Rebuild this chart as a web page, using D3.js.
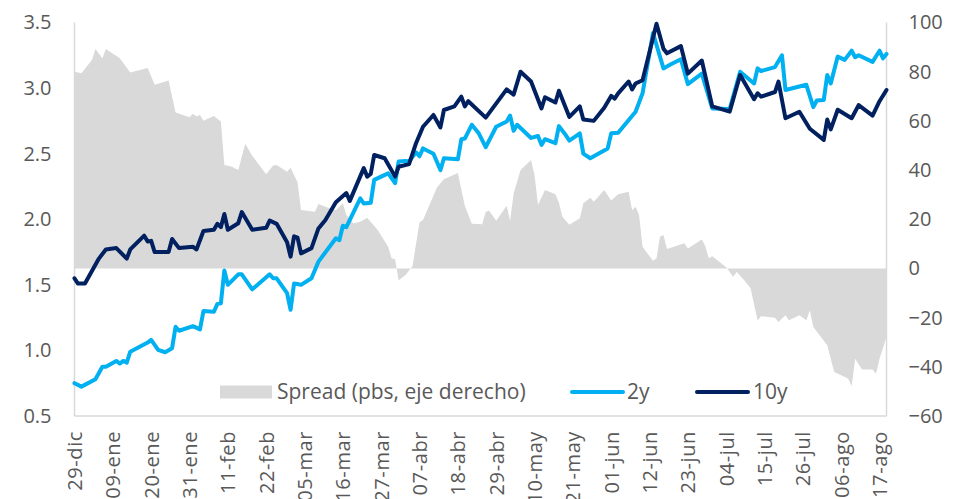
<!DOCTYPE html>
<html>
<head>
<meta charset="utf-8">
<script src="https://cdn.jsdelivr.net/npm/d3@7"></script>
<style>
  html, body { margin: 0; padding: 0; background: #fff; }
  svg { display: block; }
  text { font-family: "Open Sans", "Liberation Sans", sans-serif; fill: #595959; }
</style>
</head>
<body>
<svg id="chart" width="957" height="499"></svg>
<script>
// ---------- DATA ----------
const tickLabels = ["29-dic","09-ene","20-ene","31-ene","11-feb","22-feb","05-mar","16-mar","27-mar","07-abr","18-abr","29-abr","10-may","21-may","01-jun","12-jun","23-jun","04-jul","15-jul","26-jul","06-ago","17-ago"];
const leftTicks = [0.5, 1.0, 1.5, 2.0, 2.5, 3.0, 3.5];
const rightTicks = [-60, -40, -20, 0, 20, 40, 60, 80, 100];

const tenYDates = ["2021-12-29","2021-12-30","2022-01-01","2022-01-05","2022-01-07","2022-01-10","2022-01-13","2022-01-14","2022-01-18","2022-01-19","2022-01-20","2022-01-21","2022-01-25","2022-01-26","2022-01-28","2022-02-01","2022-02-02","2022-02-04","2022-02-07","2022-02-08","2022-02-09","2022-02-10","2022-02-11","2022-02-14","2022-02-15","2022-02-18","2022-02-22","2022-02-23","2022-02-25","2022-02-28","2022-03-01","2022-03-02","2022-03-03","2022-03-04","2022-03-07","2022-03-09","2022-03-11","2022-03-14","2022-03-17","2022-03-18","2022-03-22","2022-03-23","2022-03-24","2022-03-25","2022-03-28","2022-03-31","2022-04-01","2022-04-04","2022-04-06","2022-04-08","2022-04-11","2022-04-13","2022-04-14","2022-04-17","2022-04-19","2022-04-20","2022-04-21","2022-04-26","2022-05-02","2022-05-04","2022-05-06","2022-05-09","2022-05-12","2022-05-13","2022-05-16","2022-05-17","2022-05-20","2022-05-23","2022-05-24","2022-05-27","2022-05-30","2022-06-01","2022-06-02","2022-06-03","2022-06-06","2022-06-07","2022-06-08","2022-06-10","2022-06-14","2022-06-16","2022-06-17","2022-06-21","2022-06-23","2022-06-27","2022-06-30","2022-07-05","2022-07-08","2022-07-12","2022-07-13","2022-07-14","2022-07-18","2022-07-19","2022-07-21","2022-07-25","2022-07-28","2022-08-01","2022-08-02","2022-08-03","2022-08-05","2022-08-09","2022-08-11","2022-08-15","2022-08-17","2022-08-19"];
const tenYValues = [1.55,1.51,1.51,1.70,1.77,1.78,1.70,1.77,1.875,1.83,1.835,1.75,1.75,1.85,1.78,1.79,1.77,1.91,1.92,1.965,1.94,2.04,1.92,1.97,2.055,1.92,1.935,1.99,1.965,1.825,1.715,1.87,1.86,1.74,1.78,1.93,1.995,2.13,2.20,2.14,2.39,2.325,2.345,2.49,2.465,2.325,2.40,2.42,2.58,2.705,2.795,2.70,2.833,2.86,2.935,2.86,2.90,2.775,2.99,2.95,3.125,3.05,2.845,2.93,2.89,2.98,2.78,2.86,2.76,2.75,2.85,2.94,2.92,2.96,3.05,2.99,3.035,3.06,3.49,3.30,3.265,3.32,3.11,3.21,2.86,2.82,3.10,2.915,2.96,2.935,2.97,3.05,2.77,2.82,2.69,2.605,2.76,2.685,2.835,2.77,2.87,2.79,2.90,2.985];

const twoYDates = ["2021-12-29","2021-12-31","2022-01-04","2022-01-06","2022-01-07","2022-01-10","2022-01-11","2022-01-12","2022-01-13","2022-01-14","2022-01-19","2022-01-20","2022-01-22","2022-01-24","2022-01-26","2022-01-27","2022-01-28","2022-02-01","2022-02-03","2022-02-04","2022-02-07","2022-02-08","2022-02-09","2022-02-10","2022-02-11","2022-02-14","2022-02-15","2022-02-18","2022-02-23","2022-02-24","2022-02-25","2022-02-28","2022-03-01","2022-03-02","2022-03-04","2022-03-07","2022-03-09","2022-03-14","2022-03-15","2022-03-16","2022-03-17","2022-03-21","2022-03-22","2022-03-24","2022-03-25","2022-03-29","2022-03-31","2022-04-01","2022-04-03","2022-04-04","2022-04-06","2022-04-07","2022-04-08","2022-04-11","2022-04-13","2022-04-14","2022-04-18","2022-04-19","2022-04-20","2022-04-22","2022-04-24","2022-04-26","2022-04-29","2022-05-02","2022-05-03","2022-05-04","2022-05-05","2022-05-09","2022-05-11","2022-05-12","2022-05-13","2022-05-16","2022-05-17","2022-05-19","2022-05-20","2022-05-23","2022-05-24","2022-05-26","2022-05-31","2022-06-01","2022-06-03","2022-06-08","2022-06-10","2022-06-13","2022-06-16","2022-06-18","2022-06-21","2022-06-23","2022-06-27","2022-06-30","2022-07-05","2022-07-08","2022-07-12","2022-07-13","2022-07-14","2022-07-18","2022-07-20","2022-07-21","2022-07-27","2022-07-29","2022-07-30","2022-08-01","2022-08-02","2022-08-03","2022-08-05","2022-08-07","2022-08-09","2022-08-10","2022-08-11","2022-08-15","2022-08-17","2022-08-18","2022-08-19"];
const twoYValues = [0.75,0.724,0.78,0.876,0.876,0.92,0.90,0.92,0.907,0.99,1.06,1.08,1.004,0.986,1.017,1.18,1.15,1.185,1.16,1.30,1.295,1.355,1.36,1.61,1.50,1.58,1.58,1.466,1.58,1.55,1.55,1.436,1.31,1.51,1.50,1.55,1.677,1.855,1.84,1.95,1.94,2.16,2.12,2.125,2.30,2.35,2.275,2.44,2.445,2.44,2.51,2.48,2.54,2.50,2.375,2.465,2.457,2.61,2.615,2.72,2.655,2.55,2.705,2.745,2.79,2.675,2.72,2.62,2.635,2.567,2.61,2.58,2.71,2.64,2.60,2.655,2.50,2.465,2.54,2.655,2.66,2.82,2.96,3.42,3.15,3.18,3.22,3.03,3.11,2.845,2.84,3.125,3.035,3.15,3.13,3.16,3.25,2.985,3.025,2.855,2.905,2.91,3.10,3.035,3.24,3.215,3.285,3.235,3.25,3.20,3.285,3.227,3.26];

const spreadDates = ["2021-12-29","2021-12-31","2022-01-03","2022-01-04","2022-01-06","2022-01-07","2022-01-11","2022-01-14","2022-01-19","2022-01-21","2022-01-25","2022-01-27","2022-01-31","2022-02-01","2022-02-02","2022-02-03","2022-02-04","2022-02-07","2022-02-09","2022-02-10","2022-02-12","2022-02-14","2022-02-16","2022-02-18","2022-02-22","2022-02-24","2022-02-25","2022-02-28","2022-03-01","2022-03-03","2022-03-04","2022-03-08","2022-03-09","2022-03-11","2022-03-14","2022-03-16","2022-03-17","2022-03-19","2022-03-21","2022-03-23","2022-03-26","2022-03-29","2022-03-30","2022-03-31","2022-04-01","2022-04-03","2022-04-05","2022-04-07","2022-04-08","2022-04-12","2022-04-14","2022-04-18","2022-04-20","2022-04-22","2022-04-25","2022-04-26","2022-04-27","2022-04-29","2022-05-02","2022-05-03","2022-05-04","2022-05-06","2022-05-09","2022-05-10","2022-05-11","2022-05-13","2022-05-16","2022-05-17","2022-05-18","2022-05-20","2022-05-23","2022-05-24","2022-05-26","2022-05-27","2022-05-30","2022-06-01","2022-06-03","2022-06-06","2022-06-07","2022-06-08","2022-06-09","2022-06-10","2022-06-13","2022-06-14","2022-06-15","2022-06-16","2022-06-17","2022-06-22","2022-06-23","2022-06-27","2022-06-28","2022-06-29","2022-06-30","2022-07-04","2022-07-06","2022-07-07","2022-07-09","2022-07-11","2022-07-13","2022-07-14","2022-07-18","2022-07-19","2022-07-21","2022-07-22","2022-07-25","2022-07-27","2022-07-28","2022-07-29","2022-08-02","2022-08-03","2022-08-04","2022-08-08","2022-08-09","2022-08-10","2022-08-12","2022-08-15","2022-08-16","2022-08-17","2022-08-19"];
const spreadValues = [80,79.4,84.8,89.2,85.5,89.2,85.5,79.7,81.5,74.7,76.4,63.4,61.5,62.9,61.8,62.4,60.1,62.0,59.7,42.1,41.4,40.0,50.7,45.8,38.3,41.9,42.1,39.3,40.9,35,23.8,23,26.2,25.1,23.7,26.5,21.7,18.3,19,20.6,15.6,8.8,4.1,3.7,-4.8,-2.7,1,18.8,19.7,32.9,36.3,38.8,25.5,18.2,18,23,23.5,19.4,25.5,19.4,30.5,40,44.1,38,25.8,31.9,30.2,26.7,21,17.8,20.4,26.5,28.7,27.1,31.9,27.6,30.2,31.2,23.7,25.1,21.7,8.8,3.1,4.1,12.9,13.6,7.9,10.2,8.1,11.8,9.1,4.1,5,0.5,-3.4,-1.4,-4.5,-8.1,-21.1,-19.4,-20,-21.8,-19,-21.1,-19,-21.1,-17,-23.8,-31.2,-36.7,-42.1,-44.8,-47.9,-36.7,-41.1,-41.1,-42.8,-36.7,-27.9];

const legendLabels = ["Spread (pbs, eje derecho)", "2y", "10y"];
const colors = { spread: "#D9D9D9", twoY: "#00B0F0", tenY: "#002060", axis: "#D9D9D9" };

// ---------- SCALES ----------
const parse = d3.timeParse("%Y-%m-%d");
const startDate = parse("2021-12-29");
const endDate = parse("2022-08-19");
const plot = { left: 74.5, right: 886.5, top: 22.5, bottom: 416 };

const x = d3.scaleTime().domain([startDate, endDate]).range([plot.left, plot.right]);
const yL = d3.scaleLinear().domain([0.5, 3.5]).range([plot.bottom, plot.top]);
const yR = d3.scaleLinear().domain([-60, 100]).range([plot.bottom, plot.top]);

const zip = (ds, vs) => ds.map((d, i) => ({ date: parse(d), value: vs[i] }));
const tenY = zip(tenYDates, tenYValues);
const twoY = zip(twoYDates, twoYValues);
const spread = zip(spreadDates, spreadValues);

const svg = d3.select("#chart");

// ---------- SPREAD AREA ----------
svg.append("path")
  .datum(spread)
  .attr("fill", colors.spread)
  .attr("d", d3.area().x(d => x(d.date)).y0(yR(0)).y1(d => yR(d.value)));

// ---------- AXES LINES ----------
svg.append("line").attr("x1", plot.left).attr("x2", plot.left).attr("y1", plot.top).attr("y2", plot.bottom)
  .attr("stroke", colors.axis).attr("stroke-width", 1.5);
svg.append("line").attr("x1", plot.right).attr("x2", plot.right).attr("y1", plot.top).attr("y2", plot.bottom)
  .attr("stroke", colors.axis).attr("stroke-width", 1.5);
svg.append("line").attr("x1", plot.left).attr("x2", plot.right).attr("y1", plot.bottom).attr("y2", plot.bottom)
  .attr("stroke", colors.axis).attr("stroke-width", 1.5);

// ---------- LINES ----------
const lineGen = d3.line().x(d => x(d.date)).y(d => yL(d.value));
svg.append("path").datum(twoY)
  .attr("fill", "none").attr("stroke", colors.twoY).attr("stroke-width", 4)
  .attr("stroke-linejoin", "round").attr("stroke-linecap", "round")
  .attr("d", lineGen);
svg.append("path").datum(tenY)
  .attr("fill", "none").attr("stroke", colors.tenY).attr("stroke-width", 4)
  .attr("stroke-linejoin", "round").attr("stroke-linecap", "round")
  .attr("d", lineGen);

// ---------- AXIS LABELS ----------
const leftAxis = d3.axisLeft(yL).tickValues(leftTicks).tickFormat(d3.format(".1f")).tickSize(0).tickPadding(23);
const gL = svg.append("g").attr("transform", `translate(${plot.left},0)`).call(leftAxis);
gL.select(".domain").remove();
gL.selectAll("text").style("font-size", "20px").style("fill", "#595959").style("font-family", "'Open Sans', sans-serif");

const rightAxis = d3.axisRight(yR).tickValues(rightTicks).tickFormat(d3.format("d")).tickSize(0).tickPadding(22);
const gR = svg.append("g").attr("transform", `translate(${plot.right},0)`).call(rightAxis);
gR.select(".domain").remove();
gR.selectAll("text").style("font-size", "20px").style("fill", "#595959").style("font-family", "'Open Sans', sans-serif");

const tickDates = tickLabels.map((_, i) => d3.timeDay.offset(startDate, i * 11));
const bottomAxis = d3.axisBottom(x).tickValues(tickDates).tickFormat((d, i) => tickLabels[i]).tickSize(0).tickPadding(0);
const gB = svg.append("g").attr("transform", `translate(0,${plot.bottom})`).call(bottomAxis);
gB.select(".domain").remove();
gB.selectAll("text")
  .attr("transform", "translate(0,15) rotate(-90)")
  .attr("text-anchor", "end")
  .attr("x", 0).attr("y", 0).attr("dy", "0.35em")
  .style("font-size", "20px").style("letter-spacing", "0.6px")
  .style("fill", "#595959").style("font-family", "'Open Sans', sans-serif");

// ---------- LEGEND ----------
const lg = svg.append("g");
const legY = 392;
lg.append("rect").attr("x", 220).attr("y", legY - 6.5).attr("width", 52).attr("height", 13).attr("fill", colors.spread);
lg.append("text").attr("x", 277).attr("y", legY).attr("dy", "0.35em").style("font-size", "21px").text(legendLabels[0]);
lg.append("line").attr("x1", 572).attr("x2", 623).attr("y1", legY).attr("y2", legY)
  .attr("stroke", colors.twoY).attr("stroke-width", 4).attr("stroke-linecap", "round");
lg.append("text").attr("x", 627).attr("y", legY).attr("dy", "0.35em").style("font-size", "21px").text(legendLabels[1]);
lg.append("line").attr("x1", 697).attr("x2", 748).attr("y1", legY).attr("y2", legY)
  .attr("stroke", colors.tenY).attr("stroke-width", 4).attr("stroke-linecap", "round");
lg.append("text").attr("x", 753).attr("y", legY).attr("dy", "0.35em").style("font-size", "21px").text(legendLabels[2]);
</script>
</body>
</html>
